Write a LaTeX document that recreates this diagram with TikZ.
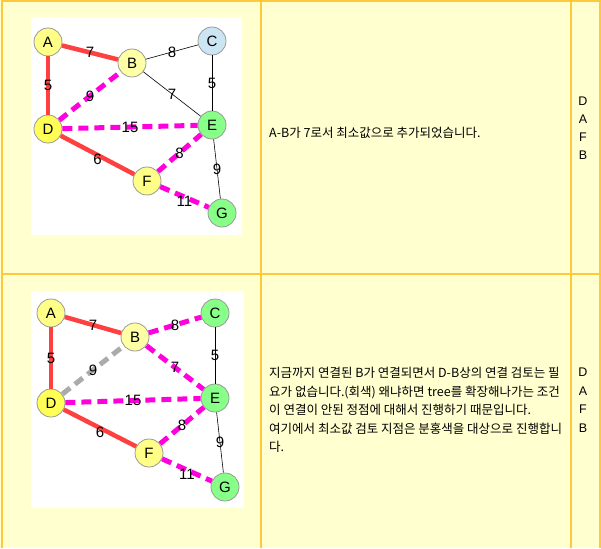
\documentclass[tikz,border=0pt]{standalone}
\usepackage{fontspec}
\setmainfont{Liberation Sans}
\newfontfamily\kor{Noto Sans CJK KR}
\usetikzlibrary{positioning}
\definecolor{cellbg}{HTML}{FFFFCF}
\definecolor{cellrule}{HTML}{FFC93C}
\definecolor{nyellow}{HTML}{FFFF88}
\definecolor{npale}{HTML}{FFFFA6}
\definecolor{nstrong}{HTML}{FFFF55}
\definecolor{nblue}{HTML}{CCE5F2}
\definecolor{ngreen}{HTML}{88FF88}
\definecolor{treered}{HTML}{FF4040}
\definecolor{candpink}{HTML}{FF00DD}

\begin{document}
\begin{tikzpicture}[x=1pt,y=-1pt,
    vtx/.style={circle,draw=black!40,line width=.8pt,minimum size=28pt,inner sep=0pt,font=\fontsize{15}{15}\selectfont},
    wt/.style={midway,inner sep=0pt,text=black,font=\fontsize{15}{15}\selectfont},
    tree/.style={treered,line width=4.5pt},
    cand/.style={candpink,line width=5pt,dash pattern=on 10pt off 6pt},
    skip/.style={black!33,line width=5pt,dash pattern=on 10pt off 6pt},
    plain/.style={black,line width=.6pt},
    txt/.style={inner sep=0pt,align=left,font=\kor\fontsize{12.5}{18.5}\selectfont}]
            \useasboundingbox (0,0) rectangle (601,548);
            % table
            \fill[cellbg] (0,0) rectangle (601,548);
            \begin{scope}[cellrule,line width=1.4pt]
                \draw (2,548) -- (2,1) -- (600,1) -- (600,548);
                \draw (2,274) -- (600,274);
                \draw (261,1) -- (261,548);
                \draw (571,1) -- (571,548);
            \end{scope}
            \fill[white] (31,17) rectangle (242,235);
            \fill[white] (31,291) rectangle (244,508);

            % step 1
            \node[vtx,fill=nyellow] (a1) at (48,42)   {A};
            \node[vtx,fill=npale]   (b1) at (132,63)  {B};
            \node[vtx,fill=nblue]   (c1) at (212,41)  {C};
            \node[vtx,fill=nstrong] (d1) at (48,129)  {D};
            \node[vtx,fill=ngreen]  (e1) at (212,125) {E};
            \node[vtx,fill=nyellow] (f1) at (147,181) {F};
            \node[vtx,fill=ngreen]  (g1) at (222,213) {G};

            \draw[tree]  (a1) -- (b1) node[wt] {7};
            \draw[tree]  (a1) -- (d1) node[wt] {5};
            \draw[tree]  (d1) -- (f1) node[wt,yshift=-4pt] {6};
            \draw[plain] (b1) -- (c1) node[wt] {8};
            \draw[plain] (b1) -- (e1) node[wt] {7};
            \draw[plain] (c1) -- (e1) node[wt] {5};
            \draw[plain] (e1) -- (g1) node[wt] {9};
            \draw[cand]  (d1) -- (b1) node[wt] {9};
            \draw[cand]  (d1) -- (e1) node[wt] {15};
            \draw[cand]  (f1) -- (e1) node[wt] {8};
            \draw[cand]  (f1) -- (g1) node[wt,yshift=-4pt] {11};

            \node[txt,anchor=west] (msg1) at (269,133) {A-B가 7로서 최소값으로 추가되었습니다.};
            \node[txt,align=center,font=\fontsize{12.5}{18}\selectfont] (set1) at (583,128) {D\\A\\F\\B};

            % step 2
            \node[vtx,fill=nyellow] (a2) at (51,313)  {A};
            \node[vtx,fill=npale]   (b2) at (135,337) {B};
            \node[vtx,fill=ngreen]  (c2) at (215,313) {C};
            \node[vtx,fill=nstrong] (d2) at (51,403)  {D};
            \node[vtx,fill=ngreen]  (e2) at (215,398) {E};
            \node[vtx,fill=nyellow] (f2) at (149,453) {F};
            \node[vtx,fill=ngreen]  (g2) at (225,487) {G};

            \draw[tree]  (a2) -- (b2) node[wt] {7};
            \draw[tree]  (a2) -- (d2) node[wt] {5};
            \draw[tree]  (d2) -- (f2) node[wt,yshift=-4pt] {6};
            \draw[plain] (c2) -- (e2) node[wt] {5};
            \draw[plain] (e2) -- (g2) node[wt] {9};
            \draw[skip]  (d2) -- (b2) node[wt] {9};
            \draw[cand]  (b2) -- (c2) node[wt] {8};
            \draw[cand]  (b2) -- (e2) node[wt] {7};
            \draw[cand]  (d2) -- (e2) node[wt] {15};
            \draw[cand]  (f2) -- (e2) node[wt] {8};
            \draw[cand]  (f2) -- (g2) node[wt,yshift=-4pt] {11};

            \node[txt,anchor=west] (msg2) at (269,410) {지금까지 연결된 B가 연결되면서 D-B상의 연결 검토는 필\\요가 없습니다.(회색) 왜냐하면 tree를 확장해나가는 조건\\이 연결이 안된 정점에 대해서 진행하기 때문입니다.\\여기에서 최소값 검토 지점은 분홍색을 대상으로 진행합니\\다.};
            \node[txt,align=center,font=\fontsize{12.5}{18.5}\selectfont] (set2) at (583,400) {D\\A\\F\\B};
        \end{tikzpicture}
\end{document}
